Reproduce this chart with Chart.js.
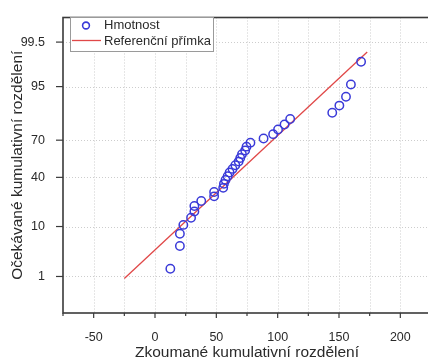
<!DOCTYPE html>
<html>
<head>
<meta charset="utf-8">
<script src="https://cdn.jsdelivr.net/npm/chart.js@4/dist/chart.umd.min.js"></script>
<style>
  html, body { margin: 0; padding: 0; background: #fff; overflow: hidden; }
  #wrap { position: absolute; left: 0; top: 0; width: 440px; height: 360px; }
</style>
</head>
<body>
<div id="wrap"><canvas id="probChart"></canvas></div>
<script>
const observedValues = [
  12.5, 20.3, 20.3, 23.1, 29.4, 32.1, 32.1, 37.7, 48.2, 48.2, 55.6,
  56.2, 57.5, 59.2, 60.8, 63.2, 65.5, 68.2, 69.5, 70.9, 73.5, 74.6,
  77.8, 88.5, 96.3, 100.3, 105.6, 110.2, 144.5, 150.3, 155.7, 159.7, 168.0,
];
const expectedPercents = [
  1.52, 4.55, 7.58, 10.61, 13.64, 16.67, 19.7, 22.73, 25.76, 28.79, 31.82,
  34.85, 37.88, 40.91, 43.94, 46.97, 50.0, 53.03, 56.06, 59.09, 62.12, 65.15,
  68.18, 71.21, 74.24, 77.27, 80.3, 83.33, 86.36, 89.39, 92.42, 95.45, 98.48,
];
const refLineX = [-25, 173];
const refLinePercents = [0.89, 99.11];
const yTickPercents = [1, 10, 40, 70, 95, 99.5];
const yTickLabels = ["1", "10", "40", "70", "95", "99.5"];
const yRangePercents = [0.1, 99.9];
const xRange = [-75, 225];
const seriesLabels = ["Hmotnost", "Referenční přímka"];

const FONT = "'Liberation Sans', Arial, sans-serif";
const TEXT = "#2a2a2a";
const BLUE = "#3a3ad8";
const RED = "#e04848";

function probit(p) {
  const a = [-39.69683028665376, 220.9460984245205, -275.9285104469687, 138.357751867269, -30.66479806614716, 2.506628277459239];
  const b = [-54.47609879822406, 161.5858368580409, -155.6989798598866, 66.80131188771972, -13.28068155288572];
  const c = [-0.007784894002430293, -0.3223964580411365, -2.400758276161838, -2.549671010229768, 4.374664141464968, 2.938163982698783];
  const d = [0.007784695709041462, 0.3224671290700398, 2.445134137142996, 3.754408661907416];
  const pl = 0.02425;
  let q, r;
  if (p < pl) {
    q = Math.sqrt(-2 * Math.log(p));
    return (((((c[0] * q + c[1]) * q + c[2]) * q + c[3]) * q + c[4]) * q + c[5]) / ((((d[0] * q + d[1]) * q + d[2]) * q + d[3]) * q + 1);
  }
  if (p > 1 - pl) {
    q = Math.sqrt(-2 * Math.log(1 - p));
    return -(((((c[0] * q + c[1]) * q + c[2]) * q + c[3]) * q + c[4]) * q + c[5]) / ((((d[0] * q + d[1]) * q + d[2]) * q + d[3]) * q + 1);
  }
  q = p - 0.5;
  r = q * q;
  return (((((a[0] * r + a[1]) * r + a[2]) * r + a[3]) * r + a[4]) * r + a[5]) * q / (((((b[0] * r + b[1]) * r + b[2]) * r + b[3]) * r + b[4]) * r + 1);
}

const pointData = observedValues.map((x, i) => ({ x: x, y: probit(expectedPercents[i] / 100) }));
const lineData = refLineX.map((x, i) => ({ x: x, y: probit(refLinePercents[i] / 100) }));

const dottedGrid = {
  id: "dottedGrid",
  beforeDatasetsDraw(chart) {
    const ctx = chart.ctx;
    const area = chart.chartArea;
    const xs = chart.scales.x;
    const ys = chart.scales.y;
    ctx.save();
    ctx.strokeStyle = "#cdcdcd";
    ctx.lineWidth = 1;
    ctx.setLineDash([1, 2]);
    for (let v = xRange[0] + 25; v < xRange[1]; v += 25) {
      const px = Math.round(xs.getPixelForValue(v)) + 0.5;
      ctx.beginPath();
      ctx.moveTo(px, area.top);
      ctx.lineTo(px, area.bottom);
      ctx.stroke();
    }
    yTickPercents.forEach((p) => {
      const py = Math.round(ys.getPixelForValue(probit(p / 100))) + 0.5;
      ctx.beginPath();
      ctx.moveTo(area.left, py);
      ctx.lineTo(area.right, py);
      ctx.stroke();
    });
    ctx.restore();
  },
};

const frameAndLegend = {
  id: "frameAndLegend",
  afterDraw(chart) {
    const ctx = chart.ctx;
    const area = chart.chartArea;
    const xs = chart.scales.x;
    const ys = chart.scales.y;
    ctx.save();
    ctx.strokeStyle = "#3a3a3a";
    ctx.lineWidth = 1.6;
    ctx.strokeRect(area.left, area.top, area.right - area.left, area.bottom - area.top);
    ctx.lineWidth = 1.2;
    for (let v = xRange[0]; v <= xRange[1]; v += 25) {
      const px = xs.getPixelForValue(v);
      const len = v % 50 === 0 ? 5 : 3;
      ctx.beginPath();
      ctx.moveTo(px, area.bottom);
      ctx.lineTo(px, area.bottom + len);
      ctx.stroke();
    }
    yTickPercents.forEach((p) => {
      const py = ys.getPixelForValue(probit(p / 100));
      ctx.beginPath();
      ctx.moveTo(area.left - 7, py);
      ctx.lineTo(area.left, py);
      ctx.stroke();
    });

    const bx = 70, by = 17, bw = 143, bh = 34;
    ctx.fillStyle = "#fff";
    ctx.fillRect(bx, by, bw, bh);
    ctx.strokeStyle = "#9a9a9a";
    ctx.lineWidth = 1;
    ctx.strokeRect(bx + 0.5, by + 0.5, bw, bh);
    ctx.strokeStyle = BLUE;
    ctx.lineWidth = 1.6;
    ctx.beginPath();
    ctx.arc(86, 25.5, 3.4, 0, Math.PI * 2);
    ctx.stroke();
    ctx.strokeStyle = RED;
    ctx.lineWidth = 1.3;
    ctx.beginPath();
    ctx.moveTo(72, 40.5);
    ctx.lineTo(101, 40.5);
    ctx.stroke();
    ctx.fillStyle = TEXT;
    ctx.font = "13px " + FONT;
    ctx.textBaseline = "middle";
    ctx.textAlign = "left";
    ctx.fillText(seriesLabels[0], 104, 25);
    ctx.fillText(seriesLabels[1], 104, 41);
    ctx.restore();
  },
};

const ctx = document.getElementById("probChart").getContext("2d");
new Chart(ctx, {
  type: "scatter",
  data: {
    datasets: [
      {
        label: seriesLabels[0],
        data: pointData,
        pointStyle: "circle",
        pointRadius: 4.2,
        pointBorderWidth: 1.5,
        pointBorderColor: BLUE,
        pointBackgroundColor: "rgba(0,0,0,0)",
        showLine: false,
        order: 1,
      },
      {
        label: seriesLabels[1],
        data: lineData,
        showLine: true,
        borderColor: RED,
        borderWidth: 1.3,
        pointRadius: 0,
        order: 2,
      },
    ],
  },
  options: {
    responsive: true,
    maintainAspectRatio: false,
    animation: false,
    layout: { padding: { top: 14, right: 3, left: 0, bottom: 0 } },
    plugins: {
      legend: { display: false },
      tooltip: { enabled: false },
    },
    scales: {
      x: {
        type: "linear",
        min: xRange[0],
        max: xRange[1],
        afterFit: (s) => { s.height = 47; },
        border: { display: false },
        grid: { display: false },
        ticks: {
          stepSize: 25,
          autoSkip: false,
          maxRotation: 0,
          padding: 9,
          color: TEXT,
          font: { family: FONT, size: 12.5 },
          callback: (v) => (v % 50 === 0 ? String(v) : ""),
        },
        title: {
          display: true,
          text: "Zkoumané kumulativní rozdělení",
          color: TEXT,
          font: { family: FONT, size: 15.5, lineHeight: 1 },
          padding: { top: 0, bottom: 0 },
        },
      },
      y: {
        type: "linear",
        min: probit(yRangePercents[0] / 100),
        max: probit(yRangePercents[1] / 100),
        afterFit: (s) => { s.width = 63; },
        afterBuildTicks: (s) => {
          s.ticks = yTickPercents.map((p) => ({ value: probit(p / 100) }));
        },
        border: { display: false },
        grid: { display: false },
        ticks: {
          padding: 10,
          color: TEXT,
          font: { family: FONT, size: 12.5 },
          callback: (v, i) => yTickLabels[i],
        },
        title: {
          display: true,
          text: "Očekávané kumulativní rozdělení",
          color: TEXT,
          font: { family: FONT, size: 15.5, lineHeight: 1 },
          padding: { top: 10, bottom: 0 },
        },
      },
    },
  },
  plugins: [dottedGrid, frameAndLegend],
});
</script>
</body>
</html>
